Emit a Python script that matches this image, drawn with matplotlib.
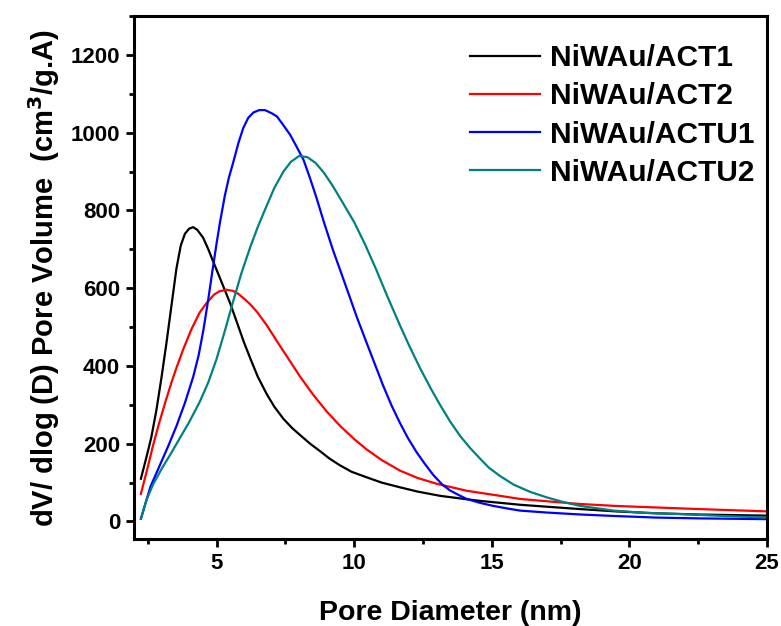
import matplotlib
matplotlib.use("Agg")
import matplotlib.pyplot as plt
from matplotlib.ticker import MultipleLocator

plt.rcParams['font.family'] = ['Liberation Sans', 'DejaVu Sans']
plt.rcParams['font.weight'] = 'bold'

# pore size distributions
x_act1 = [2.25, 2.45, 2.63, 2.81, 3.00, 3.18, 3.36, 3.54, 3.70, 3.85, 4.0, 4.15,
          4.3, 4.51, 4.70, 4.88, 5.1, 5.3, 5.5, 5.75, 6.0, 6.25, 6.5, 6.82, 7.1,
          7.43, 7.75, 8.04, 8.4, 8.74, 9.1, 9.47, 9.9, 10.44, 11.0, 11.66, 12.3,
          13.12, 14.0, 14.57, 15.3, 16.03, 17.0, 18.2, 19.5, 21.0, 22.5, 25]
y_act1 = [110, 165, 217, 285, 371, 460, 555, 650, 710, 740, 753, 757,
          750, 730, 700, 668, 630, 595, 560, 510, 460, 415, 372, 328, 295,
          264, 240, 222, 200, 182, 162, 145, 128, 114, 100, 88, 77,
          66, 58, 53, 48, 43, 38, 32, 26, 21, 18, 15]

x_act2 = [2.25, 2.5, 2.69, 2.9, 3.15, 3.35, 3.54, 3.8, 4.09, 4.39, 4.64, 4.9,
          5.1, 5.36, 5.6, 5.8, 5.97, 6.2, 6.46, 6.82, 7.2, 7.55, 8.04, 8.5,
          9.0, 9.5, 10.0, 10.44, 11.0, 11.66, 12.3, 13.0, 14.09, 15.3, 16.03,
          17.0, 18.22, 19.5, 21.0, 22.5, 25]
y_act2 = [71, 140, 195, 250, 310, 355, 395, 445, 495, 538, 562, 583,
          592, 596, 593, 585, 575, 560, 540, 505, 463, 425, 372, 327,
          283, 245, 212, 186, 158, 131, 112, 97, 79, 66, 58,
          52, 45, 40, 36, 32, 26]

x_actu1 = [2.25, 2.6, 2.94, 3.25, 3.54, 3.85, 4.15, 4.35, 4.52, 4.70, 4.85, 5.0,
           5.12, 5.3, 5.45, 5.61, 5.8, 5.97, 6.15, 6.34, 6.55, 6.76, 7.0, 7.19,
           7.4, 7.67, 7.9, 8.16, 8.4, 8.62, 8.9, 9.23, 9.55, 9.84, 10.1, 10.44,
           10.75, 11.05, 11.36, 11.66, 11.95, 12.27, 12.57, 12.87, 13.2, 13.48,
           13.8, 14.09, 14.57, 15.06, 15.6, 16.03, 17.0, 18.22, 19.5, 21.0, 22.5, 25]
y_actu1 = [7, 90, 145, 195, 245, 305, 372, 428, 492, 572, 645, 715,
           768, 838, 885, 925, 975, 1012, 1038, 1052, 1058, 1058, 1050, 1042,
           1022, 995, 965, 930, 882, 835, 770, 698, 635, 577, 525, 462,
           405, 350, 298, 254, 215, 178, 148, 120, 95, 80,
           68, 58, 48, 40, 33, 28, 23, 18, 14, 10, 8, 6]

x_actu2 = [2.25, 2.45, 2.69, 3.0, 3.3, 3.67, 4.0, 4.39, 4.7, 5.0, 5.3, 5.61, 5.9,
           6.22, 6.5, 6.82, 7.1, 7.43, 7.7, 8.0, 8.3, 8.6, 8.9, 9.23, 9.6, 10.0,
           10.4, 10.8, 11.2, 11.66, 12.0, 12.39, 12.8, 13.12, 13.48, 13.85,
           14.2, 14.57, 14.9, 15.3, 15.79, 16.4, 17.0, 17.6, 18.22, 19.43, 20.6,
           21.86, 23.5, 25]
y_actu2 = [7, 55, 95, 135, 170, 215, 255, 308, 358, 418, 490, 568, 638,
           705, 758, 812, 858, 900, 925, 940, 937, 922, 897, 862, 818, 770,
           712, 648, 580, 505, 452, 395, 340, 300, 258, 220,
           190, 162, 138, 117, 95, 76, 62, 50, 40, 28, 22,
           19, 14, 10]

labels = ['NiWAu/ACT1', 'NiWAu/ACT2', 'NiWAu/ACTU1', 'NiWAu/ACTU2']
colors = ['black', 'red', 'blue', '#008080']

fig = plt.figure(figsize=(7.81, 6.26), dpi=100)
ax = fig.add_axes([0.1716, 0.139, 0.8104, 0.8354])

series = [(x_act1, y_act1), (x_act2, y_act2), (x_actu1, y_actu1), (x_actu2, y_actu2)]
for (xs, ys), lab, c in zip(series, labels, colors):
    ax.plot(xs, ys, color=c, lw=1.6, label=lab, solid_joinstyle='round')

ax.set_xlim(2, 25)
ax.set_ylim(-45, 1300)
ax.xaxis.set_major_locator(MultipleLocator(5))
ax.xaxis.set_minor_locator(MultipleLocator(2.5))
ax.yaxis.set_major_locator(MultipleLocator(200))
ax.yaxis.set_minor_locator(MultipleLocator(100))
ax.tick_params(which='major', direction='out', length=6, width=2, labelsize=16, pad=4)
ax.tick_params(which='minor', direction='out', length=3.5, width=2)
for s in ax.spines.values():
    s.set_linewidth(2.2)

ax.set_xlabel('Pore Diameter (nm)', fontsize=20.5, fontweight='bold', labelpad=19)
ax.set_ylabel('dV/ dlog (D) Pore Volume  (cm$^\\mathbf{3}$/g.A)', fontsize=21,
              fontweight='bold', labelpad=6)

ax.legend(loc='upper left', bbox_to_anchor=(0.531, 0.946), frameon=False,
          prop={'size': 21.5, 'weight': 'bold'}, handlelength=2.34,
          handletextpad=0.33, labelspacing=0.34, borderpad=0, borderaxespad=0)

fig.savefig('out.png', dpi=100)
